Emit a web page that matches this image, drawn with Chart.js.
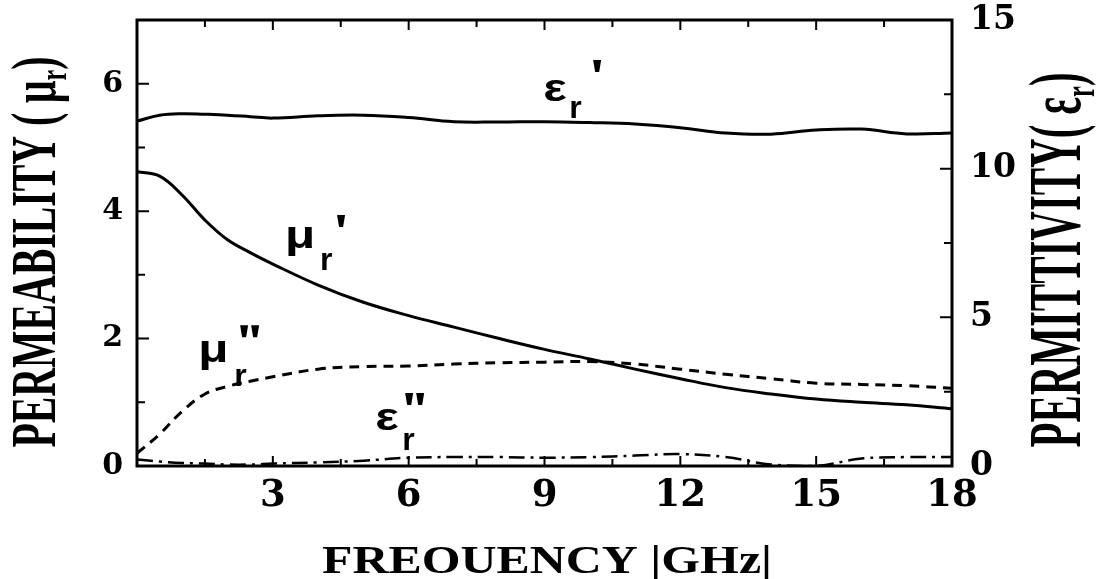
<!DOCTYPE html>
<html>
<head>
<meta charset="utf-8">
<script src="https://cdn.jsdelivr.net/npm/chart.js@4.4.1/dist/chart.umd.min.js"></script>
<style>
  html, body { margin: 0; padding: 0; background: #fff; }
  #contenedor { width: 1102px; height: 579px; }
</style>
</head>
<body>
<div id="contenedor"><canvas id="grafica"></canvas></div>
<script>
// Frecuencias (GHz)
var freq = [0, 0.5, 1, 1.5, 2, 2.5, 3, 4, 5, 6, 7, 8, 9, 10, 11, 12, 13, 14, 15, 16, 17, 18];
// Permitividad (eje derecho)
var epsReal = [11.6, 11.8, 11.85, 11.83, 11.8, 11.75, 11.7, 11.78, 11.8, 11.72, 11.58, 11.57, 11.58, 11.55, 11.5, 11.38, 11.2, 11.16, 11.3, 11.33, 11.17, 11.2];
var epsImag = [0.22, 0.15, 0.1, 0.08, 0.05, 0.05, 0.08, 0.12, 0.18, 0.28, 0.3, 0.3, 0.28, 0.3, 0.35, 0.4, 0.3, 0.05, 0.0, 0.25, 0.3, 0.3];
// Permeabilidad (eje izquierdo)
var muReal = [4.62, 4.55, 4.25, 3.86, 3.55, 3.35, 3.17, 2.84, 2.57, 2.36, 2.18, 2.0, 1.83, 1.68, 1.52, 1.37, 1.23, 1.13, 1.05, 1.0, 0.96, 0.9];
var muImag = [0.2, 0.5, 0.86, 1.13, 1.25, 1.33, 1.4, 1.52, 1.56, 1.57, 1.6, 1.62, 1.63, 1.64, 1.6, 1.52, 1.44, 1.37, 1.3, 1.28, 1.26, 1.22];

// Etiquetas y marcas de los ejes
var xLabels = [3, 6, 9, 12, 15, 18];
var xMinor = [1.5, 4.5, 7.5, 10.5, 13.5, 16.5];
var muLabels = [0, 2, 4, 6];
var muMinor = [1, 3, 5];
var epsLabels = [0, 5, 10, 15];
var epsMinor = [2.5, 7.5, 12.5];

function puntos(vals) {
  return freq.map(function(f, i) { return { x: f, y: vals[i] }; });
}

var fuenteNum = 'DejaVu Serif';
var fuenteTit = 'Liberation Serif';

// Texto escalado para que ocupe un largo dado
function textoAjustado(ctx, partes, x, y, largo, size, rot) {
  ctx.save();
  ctx.translate(x, y);
  ctx.rotate(rot);
  var total = 0;
  partes.forEach(function(p) {
    ctx.font = 'bold ' + (p.sub ? Math.round(size * 0.6) : size) + 'px "' + fuenteTit + '"';
    p.w = ctx.measureText(p.t).width;
    total += p.w;
  });
  ctx.scale(largo / total, 1);
  var cx = -total / 2;
  ctx.textAlign = 'left';
  ctx.textBaseline = 'alphabetic';
  partes.forEach(function(p) {
    ctx.font = 'bold ' + (p.sub ? Math.round(size * 0.6) : size) + 'px "' + fuenteTit + '"';
    ctx.fillText(p.t, cx, p.sub ? size * 0.18 : 0);
    cx += p.w;
  });
  ctx.restore();
}

// Comilla gruesa dibujada a mano
function comilla(ctx, x, y) {
  ctx.beginPath();
  ctx.moveTo(x, y);
  ctx.lineTo(x + 8, y);
  ctx.lineTo(x + 6, y + 12);
  ctx.lineTo(x + 2, y + 12);
  ctx.closePath();
  ctx.fill();
}

// Rotulos de cada curva (posicion en unidades de datos, eje izquierdo)
var rotulos = [
  { base: 'ε', marcas: 1, f: 8.97, v: 5.73, rx: 26, ry: 17, mx: 50, my: -41 },
  { base: 'μ', marcas: 1, f: 3.27, v: 3.42, rx: 35, ry: 22, mx: 52, my: -33 },
  { base: 'μ', marcas: 2, f: 1.35, v: 1.63, rx: 36, ry: 24, mx: 42, my: -37 },
  { base: 'ε', marcas: 2, f: 5.26, v: 0.565, rx: 27, ry: 20, mx: 30, my: -37 }
];

var marcoPlugin = {
  id: 'marco',
  afterDraw: function(chart) {
    var ctx = chart.ctx, a = chart.chartArea;
    var sx = chart.scales.x, sy = chart.scales.y, sy2 = chart.scales.y2;
    ctx.save();
    ctx.strokeStyle = '#000';
    ctx.fillStyle = '#000';
    ctx.lineWidth = 3;
    ctx.strokeRect(a.left, a.top, a.right - a.left, a.bottom - a.top);

    // marcas hacia adentro
    ctx.lineWidth = 2;
    ctx.beginPath();
    function marcasX(vals, largo) {
      vals.forEach(function(v) {
        var p = sx.getPixelForValue(v);
        ctx.moveTo(p, a.bottom); ctx.lineTo(p, a.bottom - largo);
        ctx.moveTo(p, a.top); ctx.lineTo(p, a.top + largo);
      });
    }
    marcasX(xLabels, 10);
    marcasX(xMinor, 7);
    muLabels.concat(muMinor).forEach(function(v, i) {
      var p = sy.getPixelForValue(v);
      ctx.moveTo(a.left, p); ctx.lineTo(a.left + (i < muLabels.length ? 12 : 8), p);
    });
    epsLabels.concat(epsMinor).forEach(function(v, i) {
      var p = sy2.getPixelForValue(v);
      ctx.moveTo(a.right, p); ctx.lineTo(a.right - (i < epsLabels.length ? 12 : 8), p);
    });
    ctx.stroke();

    // rotulos de las curvas
    rotulos.forEach(function(r) {
      var px = sx.getPixelForValue(r.f), py = sy.getPixelForValue(r.v);
      ctx.save();
      ctx.translate(px, py);
      ctx.textAlign = 'left';
      ctx.textBaseline = 'alphabetic';
      ctx.save();
      ctx.scale(1.3, 1);
      ctx.font = 'bold 38px "Liberation Sans"';
      ctx.fillText(r.base, 0, 0);
      ctx.restore();
      ctx.font = 'bold 32px "Liberation Sans"';
      ctx.fillText('r', r.rx, r.ry);
      for (var k = 0; k < r.marcas; k++) {
        comilla(ctx, r.mx + k * 11, r.my);
      }
      ctx.restore();
    });

    // titulos de los ejes
    textoAjustado(ctx, [{ t: 'PERMEABILITY ( μ' }, { t: 'r', sub: true }, { t: ')' }], 55, 252, 391, 63, -Math.PI / 2);
    textoAjustado(ctx, [{ t: 'PERMITTIVITY( ε' }, { t: 'r', sub: true }, { t: ')' }], 1080, 260, 375, 75, -Math.PI / 2);
    textoAjustado(ctx, [{ t: 'FREOUENCY |GHz|' }], 547, 573, 450, 40, 0);
    ctx.restore();
  }
};

// Quitar el relleno que Chart.js reserva para las etiquetas extremas
function ajustarVertical(ancho) {
  return function(s) {
    s.width = ancho;
    s.paddingTop = 0;
    s.paddingBottom = 0;
  };
}

var ctx = document.getElementById('grafica').getContext('2d');
new Chart(ctx, {
  type: 'line',
  data: {
    datasets: [
      { label: "ε'", data: puntos(epsReal), yAxisID: 'y2', borderColor: '#000', borderWidth: 3, pointRadius: 0, tension: 0.4 },
      { label: "μ'", data: puntos(muReal), yAxisID: 'y', borderColor: '#000', borderWidth: 3, pointRadius: 0, tension: 0.4 },
      { label: 'μ"', data: puntos(muImag), yAxisID: 'y', borderColor: '#000', borderWidth: 3, borderDash: [10, 7], pointRadius: 0, tension: 0.4 },
      { label: 'ε"', data: puntos(epsImag), yAxisID: 'y2', borderColor: '#000', borderWidth: 2.5, borderDash: [16, 6, 3, 6], pointRadius: 0, tension: 0.4 }
    ]
  },
  options: {
    responsive: true,
    maintainAspectRatio: false,
    animation: false,
    layout: { padding: { top: 20, left: 0, right: 0, bottom: 0 } },
    plugins: { legend: { display: false }, tooltip: { enabled: false } },
    scales: {
      x: {
        type: 'linear', min: 0, max: 18, position: 'bottom',
        afterFit: function(s) { s.height = 113; s.paddingLeft = 0; s.paddingRight = 0; },
        afterBuildTicks: function(s) { s.ticks = xLabels.map(function(v) { return { value: v }; }); },
        grid: { display: false, drawTicks: false },
        border: { display: false },
        ticks: { padding: 8, color: '#000', maxRotation: 0, font: { family: fuenteNum, size: 37, weight: 'bold' } }
      },
      y: {
        type: 'linear', min: 0, max: 7, position: 'left',
        afterFit: ajustarVertical(137),
        afterBuildTicks: function(s) { s.ticks = muLabels.map(function(v) { return { value: v }; }); },
        grid: { display: false, drawTicks: false },
        border: { display: false },
        ticks: { padding: 14, color: '#000', font: { family: fuenteNum, size: 30, weight: 'bold' } }
      },
      y2: {
        type: 'linear', min: 0, max: 15, position: 'right',
        afterFit: ajustarVertical(150),
        afterBuildTicks: function(s) { s.ticks = epsLabels.map(function(v) { return { value: v }; }); },
        grid: { display: false, drawTicks: false },
        border: { display: false },
        ticks: { padding: 18, color: '#000', font: { family: fuenteNum, size: 33, weight: 'bold' } }
      }
    }
  },
  plugins: [marcoPlugin]
});
</script>
</body>
</html>
